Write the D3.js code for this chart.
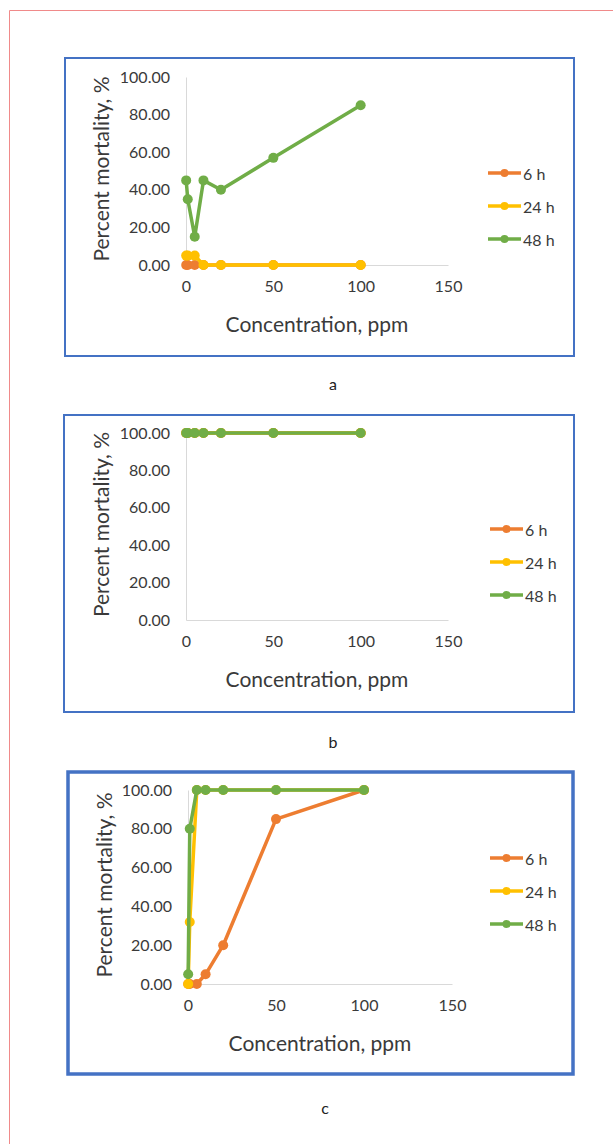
<!DOCTYPE html>
<html>
<head>
<meta charset="UTF-8">
<title>mortality</title>
<style>
  body { margin: 0; background: #fff; }
  text { font-family: Lato, "Open Sans", sans-serif; }
</style>
</head>
<body>
<script src="https://cdn.jsdelivr.net/npm/d3@7"></script>
<svg id="chart" width="613" height="1144"></svg>
<script>
// data
const concentration = [0.1, 1, 5, 10, 20, 50, 100];
const seriesNames = ["6 h", "24 h", "48 h"];
const seriesColors = ["#ED7D31", "#FFC000", "#70AD47"];
const yTicks = [0, 20, 40, 60, 80, 100];
const xTicks = [0, 50, 100, 150];
const panelLabels = ["a", "b", "c"];

// panel a
const a6h = [0, 0, 0, 0, 0, 0, 0];
const a24h = [5, 5, 5, 0, 0, 0, 0];
const a48h = [45, 35, 15, 45, 40, 57, 85];
// panel b
const b6h = [100, 100, 100, 100, 100, 100, 100];
const b24h = [100, 100, 100, 100, 100, 100, 100];
const b48h = [100, 100, 100, 100, 100, 100, 100];
// panel c
const c6h = [0, 0, 0, 5, 20, 85, 100];
const c24h = [0, 32, 100, 100, 100, 100, 100];
const c48h = [5, 80, 100, 100, 100, 100, 100];

const panelSeries = [[a6h, a24h, a48h], [b6h, b24h, b48h], [c6h, c24h, c48h]];

// where each panel sits on the page
const layout = [
  { box: [65, 58, 509, 298], bw: 2, px: [186, 448], py: [265, 77], leg: [488, 173], lab: [333, 383], yt: 100 },
  { box: [64, 415, 510, 297], bw: 2, px: [186, 448], py: [620, 433], leg: [490, 529], lab: [333, 741], yt: 100 },
  { box: [68, 772, 505, 302], bw: 3.5, px: [188, 452], py: [984, 790], leg: [490, 858], lab: [325, 1107], yt: 103 }
];

const svg = d3.select("#chart");

// page frame (red, only top and left visible)
svg.append("path")
  .attr("d", "M613,10.5H9.5V1144")
  .attr("fill", "none")
  .attr("stroke", "#f08a8a")
  .attr("stroke-width", 1);

layout.forEach((L, p) => {
  const g = svg.append("g");
  const x = d3.scaleLinear().domain([0, 150]).range(L.px);
  const y = d3.scaleLinear().domain([0, 100]).range(L.py);

  g.append("rect")
    .attr("x", L.box[0]).attr("y", L.box[1])
    .attr("width", L.box[2]).attr("height", L.box[3])
    .attr("fill", "#fff")
    .attr("stroke", "#4472C4")
    .attr("stroke-width", L.bw);

  // axes
  const yAxis = g.append("g")
    .attr("transform", `translate(${L.px[0]},0)`)
    .call(d3.axisLeft(y).tickValues(yTicks).tickFormat(d3.format(".2f")).tickSize(0).tickPadding(16));
  const xAxis = g.append("g")
    .attr("transform", `translate(0,${L.py[0]})`)
    .call(d3.axisBottom(x).tickValues(xTicks).tickSize(0).tickPadding(16));
  [xAxis, yAxis].forEach(a => {
    a.select(".domain").attr("stroke", "#d9d9d9").attr("stroke-width", 1);
    a.selectAll("text").attr("fill", "#3a3a3a").style("font-size", "16px").style("font-family", "Lato, sans-serif");
  });

  // titles
  g.append("text")
    .attr("transform", `translate(${L.yt},${(L.py[0] + L.py[1]) / 2 - 2}) rotate(-90)`)
    .attr("text-anchor", "middle")
    .attr("dominant-baseline", "central")
    .attr("fill", "#3a3a3a")
    .style("font-size", "21px")
    .text("Percent mortality, %");
  g.append("text")
    .attr("x", (L.px[0] + L.px[1]) / 2)
    .attr("y", L.py[0] + 58)
    .attr("text-anchor", "middle")
    .attr("dominant-baseline", "central")
    .attr("fill", "#3a3a3a")
    .style("font-size", "21px")
    .text("Concentration, ppm");

  // series
  const line = d3.line().x((d, i) => x(concentration[i])).y(d => y(d));
  panelSeries[p].forEach((vals, s) => {
    g.append("path")
      .attr("d", line(vals))
      .attr("fill", "none")
      .attr("stroke", seriesColors[s])
      .attr("stroke-width", 3.5)
      .attr("stroke-linejoin", "round");
    g.selectAll(null).data(vals).join("circle")
      .attr("cx", (d, i) => x(concentration[i]))
      .attr("cy", d => y(d))
      .attr("r", 5)
      .attr("fill", seriesColors[s]);
  });

  // legend
  seriesNames.forEach((name, s) => {
    const ly = L.leg[1] + s * 33;
    g.append("line")
      .attr("x1", L.leg[0]).attr("x2", L.leg[0] + 33)
      .attr("y1", ly).attr("y2", ly)
      .attr("stroke", seriesColors[s]).attr("stroke-width", 3.5);
    g.append("circle")
      .attr("cx", L.leg[0] + 16.5).attr("cy", ly).attr("r", 4)
      .attr("fill", seriesColors[s]);
    g.append("text")
      .attr("x", L.leg[0] + 35).attr("y", ly)
      .attr("dominant-baseline", "central")
      .attr("fill", "#3a3a3a")
      .style("font-size", "16px")
      .text(name);
  });

  // panel letter
  svg.append("text")
    .attr("x", L.lab[0]).attr("y", L.lab[1])
    .attr("text-anchor", "middle")
    .attr("dominant-baseline", "central")
    .attr("fill", "#222")
    .style("font-size", "16px")
    .text(panelLabels[p]);
});
</script>
</body>
</html>
